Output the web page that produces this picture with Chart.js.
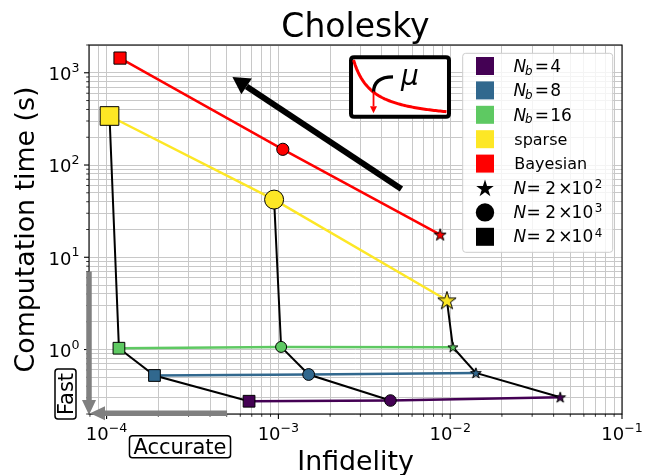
<!DOCTYPE html>
<html>
<head>
<meta charset="utf-8">
<script src="https://cdn.jsdelivr.net/npm/chart.js@4/dist/chart.umd.min.js"></script>
<style>
  html, body { margin: 0; padding: 0; background: #fff; }
  #wrap { width: 655px; height: 475px; position: relative; }
</style>
</head>
<body>
<div id="wrap"><canvas id="chart"></canvas></div>
<script>
// ---- Measurements: infidelity and computation time (s) for N = 2e2, 2e3, 2e4 samples ----
const sampleExponents = [2, 3, 4];              // N = 2 x 10^k
const methodNames = ['N_b = 4', 'N_b = 8', 'N_b = 16', 'sparse', 'Bayesian'];
const blockSizes = ['4', '8', '16'];

const nb4Infidelity      = [4.37e-2, 4.49e-3, 6.75e-4];
const nb4Time            = [0.304, 0.280, 0.275];
const nb8Infidelity      = [1.41e-2, 1.50e-3, 1.90e-4];
const nb8Time            = [0.558, 0.536, 0.523];
const nb16Infidelity     = [1.037e-2, 1.037e-3, 1.18e-4];
const nb16Time           = [1.059, 1.067, 1.033];
const sparseInfidelity   = [9.57e-3, 9.44e-4, 1.04e-4];
const sparseTime         = [3.42, 42.2, 340];
const bayesianInfidelity = [8.74e-3, 1.061e-3, 1.197e-4];
const bayesianTime       = [17.6, 148, 1443];

// Axis ranges and labelled decades
const xLimits = [7.9e-5, 0.1];
const yLimits = [0.2, 2000];
const xDecades = [-4, -3, -2, -1];
const yDecades = [0, 1, 2, 3];

// ---- Styling ----
const FONT = '"DejaVu Sans", "Liberation Sans", sans-serif';
const methodColors = ['#440154', '#31688e', '#5ec962', '#fde725', '#ff0000'];
// [star outer radius, circle radius, square radius] per method
const markerScale = [
  [5.6, 5.8, 8.3],
  [5.6, 5.9, 8.3],
  [5.3, 5.5, 8.3],
  [9.6, 9.5, 13.2],
  [6.3, 6.1, 8.6]
];
const GRID_COLOR = '#c8c8c8';

const infidelity = [nb4Infidelity, nb8Infidelity, nb16Infidelity, sparseInfidelity, bayesianInfidelity];
const times = [nb4Time, nb8Time, nb16Time, sparseTime, bayesianTime];

function starPath(ctx, cx, cy, R) {
  const r = R * 0.382;
  ctx.beginPath();
  for (let i = 0; i < 10; i++) {
    const rad = (i % 2 === 0) ? R : r;
    const ang = -Math.PI / 2 + i * Math.PI / 5;
    const px = cx + rad * Math.cos(ang), py = cy + rad * Math.sin(ang);
    if (i === 0) ctx.moveTo(px, py); else ctx.lineTo(px, py);
  }
  ctx.closePath();
}

function makeStar(R, fill) {
  const size = 2 * Math.ceil(R + 2);
  const c = document.createElement('canvas');
  c.width = size; c.height = size;
  const g = c.getContext('2d');
  starPath(g, size / 2, size / 2 + R * 0.08, R);
  g.fillStyle = fill; g.fill();
  g.lineWidth = 1; g.strokeStyle = '#000'; g.lineJoin = 'miter'; g.stroke();
  return c;
}

function points(m) {
  return infidelity[m].map((v, i) => ({ x: v, y: times[m][i] }));
}

const datasets = [];
// markers on top
methodNames.forEach((name, m) => {
  const s = markerScale[m];
  datasets.push({
    label: name,
    data: points(m),
    showLine: false,
    pointStyle: [makeStar(s[0], methodColors[m]), 'circle', 'rect'],
    pointRadius: [s[0], s[1], s[2]],
    pointBackgroundColor: methodColors[m],
    pointBorderColor: '#000',
    pointBorderWidth: 1,
    order: 0
  });
});
// black lines joining methods at equal sample size: sparse -> N_b=16 -> N_b=8 -> N_b=4
sampleExponents.forEach((k, i) => {
  datasets.push({
    label: 'N = 2e' + k,
    data: [3, 2, 1, 0].map(m => ({ x: infidelity[m][i], y: times[m][i] })),
    showLine: true,
    borderColor: '#000',
    borderWidth: 2,
    pointRadius: 0,
    order: 1
  });
});
// coloured lines for each method
methodNames.forEach((name, m) => {
  datasets.push({
    label: name + ' line',
    data: points(m),
    showLine: true,
    borderColor: methodColors[m],
    borderWidth: 2.5,
    pointRadius: 0,
    order: 2
  });
});

function logGridTicks(min, max) {
  const out = [];
  for (let e = Math.floor(Math.log10(min)); e <= Math.ceil(Math.log10(max)); e++) {
    for (let k = 1; k <= 9; k++) {
      const v = k * Math.pow(10, e);
      if (v >= min * 0.9999 && v <= max * 1.0001) out.push({ value: v, major: k === 1 });
    }
  }
  return out;
}

function roundRect(ctx, x, y, w, h, r) {
  ctx.beginPath();
  ctx.moveTo(x + r, y);
  ctx.lineTo(x + w - r, y); ctx.quadraticCurveTo(x + w, y, x + w, y + r);
  ctx.lineTo(x + w, y + h - r); ctx.quadraticCurveTo(x + w, y + h, x + w - r, y + h);
  ctx.lineTo(x + r, y + h); ctx.quadraticCurveTo(x, y + h, x, y + h - r);
  ctx.lineTo(x, y + r); ctx.quadraticCurveTo(x, y, x + r, y);
  ctx.closePath();
}

function arrow(ctx, x1, y1, x2, y2, width, headLen, headHalf, color) {
  const ang = Math.atan2(y2 - y1, x2 - x1);
  const bx = x2 - headLen * Math.cos(ang), by = y2 - headLen * Math.sin(ang);
  ctx.save();
  ctx.strokeStyle = color; ctx.fillStyle = color;
  ctx.lineWidth = width; ctx.lineCap = 'butt';
  ctx.beginPath(); ctx.moveTo(x1, y1); ctx.lineTo(bx, by); ctx.stroke();
  ctx.beginPath();
  ctx.moveTo(x2, y2);
  ctx.lineTo(bx + headHalf * Math.sin(ang), by - headHalf * Math.cos(ang));
  ctx.lineTo(bx - headHalf * Math.sin(ang), by + headHalf * Math.cos(ang));
  ctx.closePath(); ctx.fill();
  ctx.restore();
}

// power-of-ten label: "10" with a raised exponent
function powerLabel(ctx, e, x, baseline, align) {
  const exp = e < 0 ? '\u2212' + (-e) : String(e);
  ctx.font = '18px ' + FONT;
  const wb = ctx.measureText('10').width;
  ctx.font = '12.6px ' + FONT;
  const we = ctx.measureText(exp).width;
  const total = wb + we;
  let left = align === 'center' ? x - total / 2 : x - total;
  ctx.textAlign = 'left';
  ctx.font = '18px ' + FONT;
  ctx.fillText('10', left, baseline);
  ctx.font = '12.6px ' + FONT;
  ctx.fillText(exp, left + wb, baseline - 8.3);
}

const decor = {
  id: 'decor',
  afterDraw(chart) {
    const { ctx, chartArea: a } = chart;
    const xs = chart.scales.x, ys = chart.scales.y;
    const W = a.right - a.left, H = a.bottom - a.top;
    const ax = (fx) => a.left + fx * W;
    const ay = (fy) => a.top + fy * H;

    ctx.save();
    ctx.fillStyle = '#000';
    ctx.textBaseline = 'alphabetic';

    // frame
    ctx.strokeStyle = '#000'; ctx.lineWidth = 1.1;
    ctx.strokeRect(a.left, a.top, W, H);

    // tick marks (outward, left and bottom)
    logGridTicks(xLimits[0], xLimits[1]).forEach(t => {
      const px = xs.getPixelForValue(t.value);
      ctx.lineWidth = t.major ? 1.1 : 0.8;
      ctx.beginPath(); ctx.moveTo(px, a.bottom); ctx.lineTo(px, a.bottom + (t.major ? 5 : 2.8)); ctx.stroke();
    });
    logGridTicks(yLimits[0], yLimits[1]).forEach(t => {
      const py = ys.getPixelForValue(t.value);
      ctx.lineWidth = t.major ? 1.1 : 0.8;
      ctx.beginPath(); ctx.moveTo(a.left, py); ctx.lineTo(a.left - (t.major ? 5 : 2.8), py); ctx.stroke();
    });

    // tick labels
    xDecades.forEach(e => powerLabel(ctx, e, xs.getPixelForValue(Math.pow(10, e)), a.bottom + 26, 'center'));
    yDecades.forEach(e => powerLabel(ctx, e, a.left - 9.5, ys.getPixelForValue(Math.pow(10, e)) + 7.3, 'right'));

    // axis titles
    ctx.font = '26.8px ' + FONT;
    ctx.textAlign = 'center';
    ctx.fillText('Infidelity', (a.left + a.right) / 2, 470);
    ctx.save();
    ctx.translate(33.5, (a.top + a.bottom) / 2);
    ctx.rotate(-Math.PI / 2);
    ctx.fillText('Computation time (s)', 0, 0);
    ctx.restore();

    // title
    ctx.font = '33px ' + FONT;
    ctx.fillText('Cholesky', (a.left + a.right) / 2, 36.5);

    // trend arrow towards faster / more accurate
    arrow(ctx, xs.getPixelForValue(5.2e-3), ys.getPixelForValue(55),
               xs.getPixelForValue(5.4e-4), ys.getPixelForValue(900), 6, 17, 9.5, '#000');

    // inset: decreasing mu along the curve
    const bx0 = ax(0.4916), bx1 = ax(0.6754), by0 = ay(0.0333), by1 = ay(0.1943);
    roundRect(ctx, bx0, by0, bx1 - bx0, by1 - by0, 3);
    ctx.fillStyle = '#fff'; ctx.fill();
    ctx.lineWidth = 4; ctx.strokeStyle = '#000'; ctx.stroke();
    ctx.beginPath();
    const cx0 = bx0 + 2.5, cx1 = bx1 - 2.5, cy0 = by0 + 2.7, cy1 = by1 - 5;
    for (let i = 0; i <= 60; i++) {
      const u = i / 60, c = 0.2;
      const f = (c / (u + c) - c / (1 + c)) / (1 - c / (1 + c));
      const px = cx0 + u * (cx1 - cx0), py = cy0 + (1 - f) * (cy1 - cy0);
      if (i === 0) ctx.moveTo(px, py); else ctx.lineTo(px, py);
    }
    ctx.strokeStyle = '#ff0000'; ctx.lineWidth = 3; ctx.lineCap = 'butt'; ctx.stroke();
    const hx = bx0 + 22.5;
    ctx.beginPath();
    ctx.moveTo(bx0 + 42, by0 + 19.5);
    ctx.quadraticCurveTo(hx, by0 + 19.5, hx, by0 + 35);
    ctx.strokeStyle = '#000'; ctx.lineWidth = 3.3; ctx.stroke();
    arrow(ctx, hx, by0 + 34, hx, by1 - 3.5, 1.8, 7, 3.5, '#ff0000');
    ctx.fillStyle = '#000';
    ctx.font = 'italic 28px ' + FONT; ctx.textAlign = 'left';
    ctx.fillText('\u03bc', bx0 + 50, by0 + 27.5);

    // "Fast" / "Accurate" guide arrows
    arrow(ctx, a.left, ay(0.614), a.left, a.bottom + 1, 5.5, 15, 7, '#808080');
    arrow(ctx, ax(0.259), a.bottom - 0.7, a.left + 1, a.bottom - 0.7, 5.5, 15, 7, '#808080');

    ctx.font = '21px ' + FONT; ctx.textAlign = 'center';
    // Accurate
    let tw = ctx.measureText('Accurate').width;
    roundRect(ctx, 180 - tw / 2 - 4, 435.7, tw + 8, 22, 3);
    ctx.fillStyle = '#fff'; ctx.fill(); ctx.lineWidth = 1.5; ctx.strokeStyle = '#000'; ctx.stroke();
    ctx.fillStyle = '#000'; ctx.fillText('Accurate', 180, 454);
    // Fast
    tw = ctx.measureText('Fast').width;
    roundRect(ctx, 55, 394 - tw / 2 - 4, 21, tw + 8, 3);
    ctx.fillStyle = '#fff'; ctx.fill(); ctx.lineWidth = 1.5; ctx.strokeStyle = '#000'; ctx.stroke();
    ctx.save();
    ctx.translate(65.5 + 7.7, 394); ctx.rotate(-Math.PI / 2);
    ctx.fillStyle = '#000'; ctx.fillText('Fast', 0, 0);
    ctx.restore();

    // legend
    roundRect(ctx, 462.7, 53.3, 150, 199, 3);
    ctx.fillStyle = 'rgba(255,255,255,0.8)'; ctx.fill();
    ctx.lineWidth = 1; ctx.strokeStyle = '#cccccc'; ctx.stroke();
    const mx = 485, tx = 514.3, step = 24.4, y0 = 66;
    const MATH = '17px ' + FONT, MATH_IT = 'italic 17px ' + FONT, MATH_SM = '11.9px ' + FONT;
    ctx.textAlign = 'left';
    const subLabel = (row, nb) => {
      const base = y0 + row * step + 5.7;
      ctx.fillStyle = '#000';
      ctx.font = MATH_IT; ctx.fillText('N', tx - 0.8, base);
      ctx.font = 'italic ' + MATH_SM; ctx.fillText('b', tx + 10.6, base + 2.8);
      ctx.font = MATH;
      ctx.fillText('=', tx + 20.5, base);
      ctx.fillText(nb, tx + 36, base);
    };
    const plain = (row, text) => {
      ctx.fillStyle = '#000'; ctx.font = '16px ' + FONT;
      ctx.fillText(text, tx, y0 + row * step + 5.8);
    };
    const nLabel = (row, k) => {
      const base = y0 + row * step + 5.6;
      ctx.fillStyle = '#000';
      ctx.font = MATH_IT; ctx.fillText('N', tx - 0.8, base);
      ctx.font = MATH;
      ctx.fillText('=', tx + 12.3, base);
      ctx.fillText('2', tx + 31, base);
      ctx.fillText('\u00d7', tx + 44, base);
      ctx.fillText('10', tx + 57.3, base);
      ctx.font = MATH_SM; ctx.fillText(String(k), tx + 80.5, base - 5.8);
    };
    methodColors.forEach((col, m) => {
      const cy = y0 + m * step;
      ctx.fillStyle = col; ctx.fillRect(mx - 9, cy - 9, 18, 18);
    });
    blockSizes.forEach((nb, i) => subLabel(i, nb));
    plain(3, methodNames[3]);
    plain(4, methodNames[4]);
    // sample-size markers
    ctx.fillStyle = '#000';
    starPath(ctx, mx, y0 + 5 * step + 0.8, 9.2); ctx.fill();
    ctx.beginPath(); ctx.arc(mx, y0 + 6 * step, 9.2, 0, Math.PI * 2); ctx.fill();
    ctx.fillRect(mx - 9, y0 + 7 * step - 9, 18, 18);
    sampleExponents.forEach((k, i) => nLabel(5 + i, k));

    ctx.restore();
  }
};

new Chart(document.getElementById('chart'), {
  type: 'scatter',
  data: { datasets },
  options: {
    responsive: true,
    maintainAspectRatio: false,
    devicePixelRatio: 1,
    animation: false,
    events: [],
    layout: { padding: { left: 0, right: 33, top: 45, bottom: 0 } },
    plugins: { legend: { display: false }, title: { display: false }, tooltip: { enabled: false } },
    scales: {
      x: {
        type: 'logarithmic', min: xLimits[0], max: xLimits[1],
        afterBuildTicks: s => { s.ticks = logGridTicks(xLimits[0], xLimits[1]); },
        afterFit: s => { s.height = 61; },
        ticks: { display: false },
        grid: { color: GRID_COLOR, lineWidth: 1, drawTicks: false },
        border: { display: false }
      },
      y: {
        type: 'logarithmic', min: yLimits[0], max: yLimits[1],
        afterBuildTicks: s => { s.ticks = logGridTicks(yLimits[0], yLimits[1]); },
        afterFit: s => { s.width = 89; },
        ticks: { display: false },
        grid: { color: GRID_COLOR, lineWidth: 1, drawTicks: false },
        border: { display: false }
      }
    }
  },
  plugins: [decor]
});
</script>
</body>
</html>
